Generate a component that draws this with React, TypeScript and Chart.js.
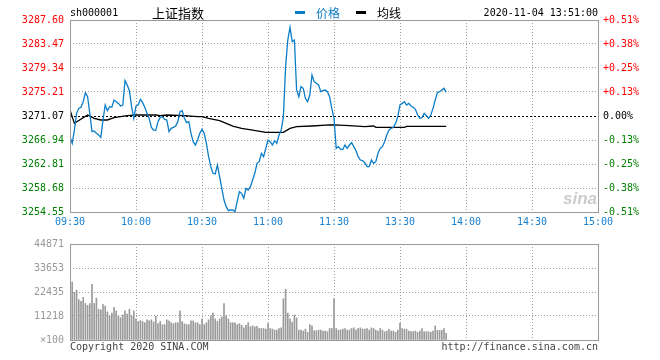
import React, { useEffect, useRef } from "react";
import { Chart, registerables } from "chart.js";

Chart.register(...registerables);

const PRE_CLOSE = 3271.07;
const PRICE_MIN = 3254.55;
const PRICE_MAX = 3287.6;
const PRICE_TICKS = [3254.55, 3258.68, 3262.81, 3266.94, 3271.07, 3275.21, 3279.34, 3283.47, 3287.6];
const PCT_TICKS = ["-0.51%", "-0.38%", "-0.25%", "-0.13%", "0.00%", "+0.13%", "+0.25%", "+0.38%", "+0.51%"];
const TIME_LABELS = ["09:30", "10:00", "10:30", "11:00", "11:30", "13:30", "14:00", "14:30", "15:00"];
const VOL_MAX = 44871;
const VOL_TICKS = [0, 11218, 22435, 33653, 44871];
const VOL_TICK_LABELS = ["×100", "11218", "22435", "33653", "44871"];

// minute-by-minute index price, 09:30 .. 13:51
const PRICES = [
  3267.52, 3266.37, 3268.66, 3271.53, 3272.39, 3272.57, 3273.54, 3275.09, 3274.4, 3271.53,
  3268.38, 3268.5, 3268.09, 3267.8, 3267.4, 3270.39, 3272.97, 3271.99, 3272.68, 3272.57,
  3273.83, 3273.54, 3273.25, 3272.8, 3272.97, 3277.16, 3276.41, 3275.44, 3272.68, 3270.67,
  3272.8, 3272.97, 3273.94, 3273.37, 3272.57, 3271.53, 3270.67, 3269.12, 3268.66, 3268.6,
  3270.1, 3270.84, 3270.96, 3270.5, 3270.39, 3268.38, 3268.95, 3269.12, 3269.35, 3270.1,
  3271.82, 3271.99, 3270.67, 3269.93, 3270.1, 3268.09, 3266.66, 3266.08, 3266.94, 3268.09,
  3268.78, 3268.09, 3266.37, 3264.07, 3262.35, 3261.21, 3261.09, 3262.64, 3260.63, 3258.62,
  3256.61, 3255.47, 3254.78, 3254.89, 3254.89, 3254.61, 3256.33, 3258.05, 3257.76, 3256.9,
  3258.62, 3258.34, 3258.91, 3260.06, 3261.21, 3262.93, 3263.21, 3264.65, 3264.07, 3265.51,
  3266.94, 3266.66, 3266.08, 3266.83, 3266.37, 3267.8, 3268.66, 3270.96, 3279.57, 3284.16,
  3286.34, 3283.87, 3284.16, 3275.55, 3274.4, 3276.12, 3275.84, 3274.12, 3273.54, 3274.69,
  3278.13, 3276.98, 3276.7, 3276.41, 3275.26, 3275.44, 3275.55, 3275.26, 3274.4, 3272.39,
  3270.67, 3265.51, 3265.8, 3265.34, 3265.34, 3266.08, 3265.51, 3266.08, 3266.48, 3265.8,
  3265.11, 3264.07, 3263.5, 3263.39, 3263.04, 3262.35, 3262.35, 3263.5, 3262.93, 3263.21,
  3264.65, 3265.51, 3265.8, 3266.66, 3267.8, 3268.66, 3268.95, 3269.12, 3269.81, 3270.96,
  3272.97, 3273.25, 3273.54, 3272.97, 3273.25, 3272.8, 3272.57, 3272.22, 3271.25, 3270.67,
  3270.79, 3271.53, 3271.13, 3270.67, 3271.25, 3272.39, 3273.83, 3275.09, 3275.26, 3275.55,
  3275.84, 3275.15,
];

// average price line (minute index, value)
const AVG_MINUTES = [0, 2, 8, 11, 14, 17, 20, 23, 26, 30, 39, 41, 44, 52, 58, 60, 63, 68, 71, 74, 78, 83, 89, 97, 100, 103, 110, 118, 120, 127, 134, 138, 139, 152, 153, 171];
const AVG_VALUES = [
  3272.11, 3269.81, 3271.25, 3270.67, 3270.39, 3270.39, 3270.79, 3270.96, 3271.13, 3271.25,
  3271.25, 3271.13, 3271.25, 3271.13, 3270.96, 3270.96, 3270.67, 3270.27, 3269.81, 3269.35,
  3268.95, 3268.66, 3268.26, 3268.26, 3268.95, 3269.24, 3269.35, 3269.53, 3269.53, 3269.41,
  3269.24, 3269.35, 3269.12, 3269.12, 3269.3, 3269.3,
];

// volume per minute (x100)
const VOLUMES = [
  44871, 27057, 22300, 23333, 18846, 18083, 19878, 17051, 16154, 17051,
  26025, 17051, 19609, 14359, 14045, 16602, 15839, 13147, 11352, 12564,
  15256, 13596, 11083, 10455, 11666, 13596, 12115, 14359, 11352, 13596,
  9872, 8660, 9109, 8660, 8077, 9423, 8974, 9423, 8391, 11083,
  7628, 8660, 7179, 7179, 9423, 8974, 8077, 7628, 8077, 8077,
  13596, 8660, 7628, 7179, 7179, 8974, 8974, 8077, 8077, 7179,
  9872, 7179, 8077, 9423, 11083, 12564, 9872, 8660, 9872, 10800,
  17051, 11352, 9872, 8077, 8077, 8077, 7179, 7628, 6865, 5699,
  6865, 8077, 6147, 6596, 6147, 6400, 5385, 5385, 5385, 5085,
  7628, 5385, 5085, 4636, 4636, 5385, 5684, 19295, 23782, 12564,
  9872, 8376, 11666, 10320, 4636, 4636, 4188, 5085, 3590, 7179,
  6581, 4337, 4337, 4636, 4636, 4188, 4188, 3889, 5385, 5385,
  19295, 5385, 4636, 4636, 5085, 5385, 4636, 4636, 5385, 5684,
  4636, 5385, 5684, 5085, 5085, 5385, 4636, 5684, 5385, 4636,
  4188, 5385, 4636, 3889, 4188, 4936, 4188, 4188, 3590, 4636,
  7927, 5385, 5085, 4936, 4188, 3889, 3889, 4188, 3590, 4188,
  5385, 3889, 3889, 3889, 3590, 4188, 6581, 4487, 4487, 4487,
  5385, 3141,
];

const MONO = '"DejaVu Sans Mono", "Liberation Mono", monospace';
const CJK = '"Noto Sans CJK SC", "Noto Sans", sans-serif';
const BLUE = "#0b7dc8";
const GRID = "#a0a0a0";
const FRAME = "#999999";

const timeTicks = (scale: any) => {
  scale.ticks = TIME_LABELS.map((_, i) => ({ value: i * 30 }));
};

const framePlugin = {
  id: "frame",
  beforeDatasetsDraw(chart: any, _a: any, opts: any) {
    if (!opts || !opts.preClose) return;
    const { ctx, chartArea: a } = chart;
    const y = Math.round(chart.scales.y.getPixelForValue(PRE_CLOSE)) + 0.5;
    ctx.save();
    ctx.strokeStyle = "#000";
    ctx.lineWidth = 1;
    ctx.setLineDash([2, 2]);
    ctx.beginPath();
    ctx.moveTo(a.left, y);
    ctx.lineTo(a.right, y);
    ctx.stroke();
    ctx.restore();
  },
  afterDraw(chart: any) {
    const { ctx, chartArea: a } = chart;
    ctx.save();
    ctx.strokeStyle = FRAME;
    ctx.lineWidth = 1;
    ctx.setLineDash([]);
    ctx.strokeRect(Math.round(a.left) + 0.5, Math.round(a.top) + 0.5, Math.round(a.width), Math.round(a.height));
    ctx.restore();
  },
};

const colorFor = (v: number) => {
  if (Math.abs(v - PRE_CLOSE) < 0.005) return "#000000";
  return v > PRE_CLOSE ? "#ff0000" : "#008000";
};

export default function App() {
  const priceRef = useRef<HTMLCanvasElement | null>(null);
  const volRef = useRef<HTMLCanvasElement | null>(null);

  useEffect(() => {
    const tickFont = { family: MONO, size: 10 };
    const priceChart = new Chart(priceRef.current as HTMLCanvasElement, {
      type: "line",
      data: {
        datasets: [
          {
            label: "价格",
            data: PRICES.map((p, i) => ({ x: i, y: p })),
            borderColor: BLUE,
            borderWidth: 1.3,
            pointRadius: 0,
            tension: 0,
            yAxisID: "y",
          },
          {
            label: "均线",
            data: AVG_MINUTES.map((m, i) => ({ x: m, y: AVG_VALUES[i] })),
            borderColor: "#000000",
            borderWidth: 1.3,
            pointRadius: 0,
            tension: 0,
            yAxisID: "y",
          },
        ],
      },
      options: {
        responsive: false,
        animation: false,
        events: [],
        layout: { padding: { top: 20, left: 0, right: 0, bottom: 0 } },
        plugins: { legend: { display: false }, tooltip: { enabled: false }, frame: { preClose: true } } as any,
        scales: {
          x: {
            type: "linear",
            min: 0,
            max: 240,
            afterBuildTicks: timeTicks,
            afterFit: (s: any) => { s.height = 20; },
            grid: { color: GRID, drawTicks: false },
            border: { display: false, dash: [1, 2] },
            ticks: {
              autoSkip: false,
              maxRotation: 0,
              padding: 4,
              color: "#1a80d0",
              font: tickFont,
              callback: (v: any) => TIME_LABELS[Math.round(Number(v) / 30)],
            },
          },
          y: {
            type: "linear",
            position: "left",
            min: PRICE_MIN,
            max: PRICE_MAX,
            afterBuildTicks: (s: any) => { s.ticks = PRICE_TICKS.map((v) => ({ value: v })); },
            afterFit: (s: any) => { s.width = 70; },
            grid: { color: (c: any) => (c.tick && Math.abs(c.tick.value - PRE_CLOSE) < 0.005 ? "rgba(0,0,0,0)" : GRID), drawTicks: false },
            border: { display: false, dash: [1, 2] },
            ticks: {
              autoSkip: false,
              padding: 6,
              font: tickFont,
              color: (c: any) => colorFor(c.tick.value),
              callback: (v: any) => Number(v).toFixed(2),
            },
          },
          y2: {
            type: "linear",
            position: "right",
            min: PRICE_MIN,
            max: PRICE_MAX,
            afterBuildTicks: (s: any) => { s.ticks = PRICE_TICKS.map((v) => ({ value: v })); },
            afterFit: (s: any) => { s.width = 62; },
            grid: { display: false, drawTicks: false },
            border: { display: false },
            ticks: {
              autoSkip: false,
              padding: 5,
              font: tickFont,
              color: (c: any) => colorFor(c.tick.value),
              callback: (_v: any, i: number) => PCT_TICKS[i],
            },
          },
        },
      } as any,
      plugins: [framePlugin],
    });

    const volChart = new Chart(volRef.current as HTMLCanvasElement, {
      type: "bar",
      data: {
        datasets: [
          {
            label: "成交量",
            data: VOLUMES.map((v, i) => ({ x: i, y: v })),
            backgroundColor: "#9a9a9a",
            barThickness: 1,
            borderWidth: 0,
          },
        ],
      },
      options: {
        responsive: false,
        animation: false,
        events: [],
        layout: { padding: { top: 8, left: 0, right: 62, bottom: 20 } },
        plugins: { legend: { display: false }, tooltip: { enabled: false } },
        scales: {
          x: {
            type: "linear",
            min: 0,
            max: 240,
            offset: false,
            afterBuildTicks: timeTicks,
            afterFit: (s: any) => { s.height = 0; },
            grid: { color: GRID, drawTicks: false, offset: false },
            border: { display: false, dash: [1, 2] },
            ticks: { display: false },
          },
          y: {
            type: "linear",
            min: 0,
            max: VOL_MAX,
            afterBuildTicks: (s: any) => { s.ticks = VOL_TICKS.map((v) => ({ value: v })); },
            afterFit: (s: any) => { s.width = 70; },
            grid: { color: GRID, drawTicks: false },
            border: { display: false, dash: [1, 2] },
            ticks: {
              autoSkip: false,
              padding: 6,
              font: tickFont,
              color: "#999999",
              callback: (_v: any, i: number) => VOL_TICK_LABELS[i],
            },
          },
        },
      } as any,
      plugins: [framePlugin],
    });

    return () => {
      priceChart.destroy();
      volChart.destroy();
    };
  }, []);

  const text = (style: React.CSSProperties): React.CSSProperties => ({
    position: "absolute",
    whiteSpace: "nowrap",
    lineHeight: "14px",
    height: 14,
    fontFamily: MONO,
    fontSize: 10,
    ...style,
  });

  return (
    <div style={{ position: "absolute", left: 0, top: 0, width: 660, height: 360, background: "#fff", overflow: "hidden" }}>
      <canvas ref={priceRef} width={660} height={232} style={{ position: "absolute", left: 0, top: 0, width: 660, height: 232 }} />
      <canvas ref={volRef} width={660} height={128} style={{ position: "absolute", left: 0, top: 232, width: 660, height: 128 }} />

      <div style={text({ left: 70, top: 6, color: "#000" })}>sh000001</div>
      <div style={text({ left: 152, top: 5, fontFamily: CJK, fontSize: 13, lineHeight: "16px", height: 16, color: "#000" })}>上证指数</div>
      <div style={{ position: "absolute", left: 295, top: 11, width: 10, height: 3, background: BLUE }} />
      <div style={text({ left: 316, top: 5, fontFamily: CJK, fontSize: 12, lineHeight: "16px", height: 16, color: BLUE })}>价格</div>
      <div style={{ position: "absolute", left: 356, top: 11, width: 10, height: 3, background: "#000" }} />
      <div style={text({ left: 377, top: 5, fontFamily: CJK, fontSize: 12, lineHeight: "16px", height: 16, color: "#000" })}>均线</div>
      <div style={text({ right: 660 - 598, top: 6, color: "#000", textAlign: "right" })}>2020-11-04 13:51:00</div>

      <div style={text({ left: 563, top: 190, fontFamily: '"Liberation Sans", sans-serif', fontSize: 17, fontWeight: 700, fontStyle: "italic", lineHeight: "18px", height: 18, color: "rgba(160,160,160,0.55)" })}>sina</div>

      <div style={text({ left: 70, top: 340, color: "#444" })}>Copyright 2020 SINA.COM</div>
      <div style={text({ right: 660 - 598, top: 340, color: "#444", textAlign: "right" })}>http://finance.sina.com.cn</div>
    </div>
  );
}
